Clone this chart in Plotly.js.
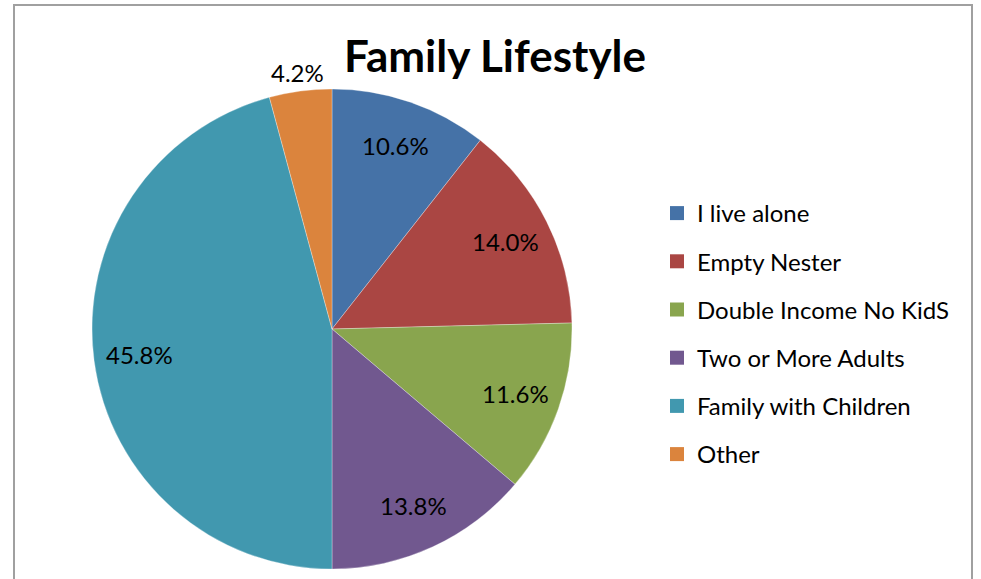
<!DOCTYPE html>
<html><head><meta charset="utf-8">
<script src="https://cdn.plot.ly/plotly-3.0.1.min.js"></script>
<style>html,body{margin:0;padding:0;background:#fff}#chart{width:981px;height:579px}</style>
</head><body><div id="chart"></div>
<script>
const categories = ["I live alone","Empty Nester","Double Income No KidS","Two or More Adults","Family with Children","Other"];
const shares = [10.6, 14.0, 11.6, 13.8, 45.8, 4.2];
const colors = ["#4572A7","#AA4643","#89A54E","#71588F","#4198AF","#DB843D"];
const labelOutside = [false, false, false, false, false, true];

const W = 981, H = 579;
const dom = {x: [92/W, 572/W], y: [1-569/H, 1-89/H]};
const pie = {
  type: "pie", labels: categories, values: shares, sort: false,
  direction: "clockwise", rotation: 0,
  marker: {colors: colors, line: {color: "rgba(255,255,255,0.3)", width: 1}},
  textinfo: "none", showlegend: false, hoverinfo: "label+percent",
  domain: dom
};
const legendTraces = categories.map((c, i) => ({
  type: "scatter", mode: "markers", x: [null], y: [null], name: c,
  legendgroup: "g" + i, marker: {symbol: "square", size: 14, color: colors[i]},
  hoverinfo: "skip"
}));

// data labels placed along each slice's bisector (Excel style)
const cxPx = (dom.x[0] + dom.x[1]) / 2 * W;
const cyPx = (1 - (dom.y[0] + dom.y[1]) / 2) * H;
const rPx = (dom.x[1] - dom.x[0]) * W / 2;
const total = shares.reduce((a, b) => a + b, 0);
let cum = 0;
const labelAnns = shares.map((v, i) => {
  const mid = (cum + v / 2) / total * 2 * Math.PI; cum += v;
  const rr = rPx * (labelOutside[i] ? 1.08 : 0.81);
  const px = cxPx + rr * Math.sin(mid), py = cyPx - rr * Math.cos(mid);
  return {xref: "paper", yref: "paper", x: px / W, y: 1 - py / H, xanchor: "center", yanchor: "middle",
          text: v.toFixed(1) + "%", showarrow: false,
          font: {family: "Lato, sans-serif", size: 24, color: "#000"}};
});

const layout = {
  width: W, height: H, margin: {l: 0, r: 0, t: 0, b: 0},
  paper_bgcolor: "#fff", plot_bgcolor: "rgba(0,0,0,0)",
  xaxis: {visible: false}, yaxis: {visible: false},
  title: {text: "<b>Family Lifestyle</b>", x: 495/W, xanchor: "center", xref: "paper",
          y: 1-57/H, yanchor: "middle", yref: "paper",
          font: {family: "Lato, sans-serif", size: 44, color: "#000"}},
  showlegend: true,
  legend: {x: 657/W, xanchor: "left", y: 1-191/H, yanchor: "top",
           font: {family: "Lato, sans-serif", size: 24, color: "#000"},
           itemwidth: 30, tracegroupgap: 14, bgcolor: "rgba(0,0,0,0)"},
  annotations: labelAnns,
  shapes: [{type: "rect", xref: "paper", yref: "paper", x0: 14/W, x1: 972/W, y0: -0.2, y1: 1-5/H,
            line: {color: "#A0A0A0", width: 2}, layer: "below"}]
};
Plotly.newPlot("chart", [pie].concat(legendTraces), layout, {displayModeBar: false, staticPlot: true});
</script></body></html>
